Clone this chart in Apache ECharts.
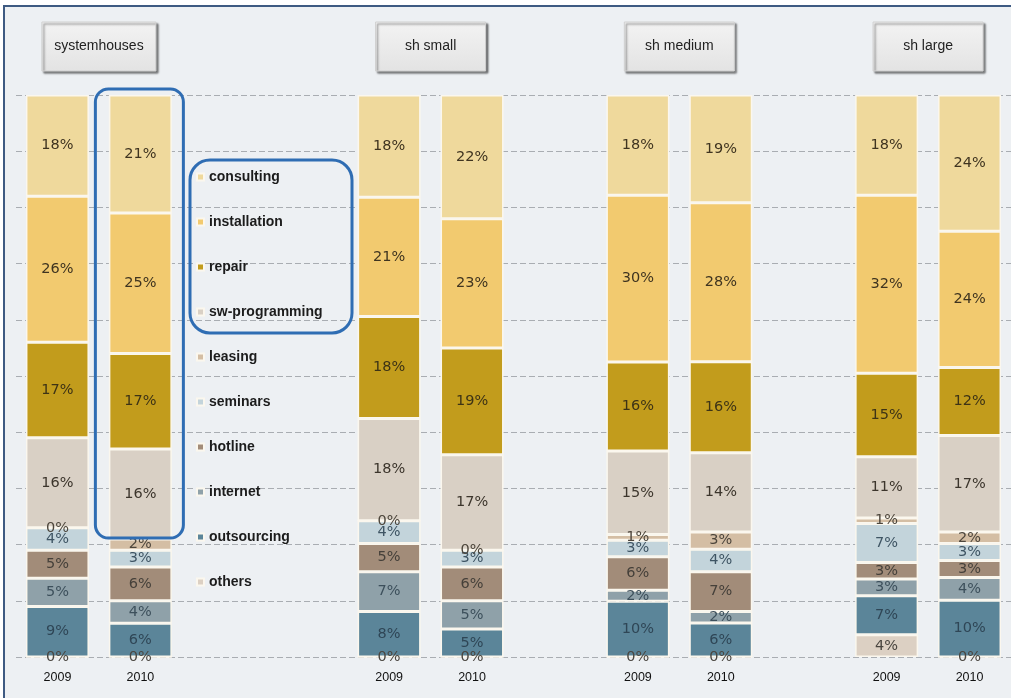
<!DOCTYPE html>
<html>
<head>
<meta charset="utf-8">
<script src="https://cdn.jsdelivr.net/npm/echarts@6/dist/echarts.min.js"></script>
<style>
  html, body { margin: 0; padding: 0; background: #ffffff; }
  #frame { position: absolute; left: 3px; top: 5px; width: 1020px; height: 700px;
           background: #edf0f3; border-left: 2px solid #3e5a82; border-top: 2px solid #3e5a82; }
  #chart { position: absolute; left: 0; top: 0; width: 1011px; height: 698px; }
</style>
</head>
<body>
<div id="frame"></div>
<div id="chart"></div>
<script>
// ---- data (bar order: systemhouses 2009/2010, sh small 2009/2010, sh medium 2009/2010, sh large 2009/2010)
const groups = ['systemhouses', 'sh small', 'sh medium', 'sh large'];
const xCategories = ['2009', '2010', '', '', '2009', '2010', '', '2009', '2010', '', '2009', '2010'];
const barSlots = [0, 1, 4, 5, 7, 8, 10, 11];

const consulting    = [18, 21, 18, 22, 18, 19, 18, 24];
const installation  = [26, 25, 21, 23, 30, 28, 32, 24];
const repair        = [17, 17, 18, 19, 16, 16, 15, 12];
const swProgramming = [16, 16, 18, 17, 15, 14, 11, 17];
const leasing       = [0, 2, 0, 0, 1, 3, 1, 2];
const seminars      = [4, 3, 4, 3, 3, 4, 7, 3];
const hotline       = [5, 6, 5, 6, 6, 7, 3, 3];
const internet      = [5, 4, 7, 5, 2, 2, 3, 4];
const outsourcing   = [9, 6, 8, 5, 10, 6, 7, 10];
const others        = [0, 0, 0, 0, 0, 0, 4, 0];

const legendOrder = ['consulting', 'installation', 'repair', 'sw-programming', 'leasing',
                     'seminars', 'hotline', 'internet', 'outsourcing', 'others'];

// stacking order bottom -> top
const stackDefs = [
  { name: 'others',         data: others,        color: '#dcd0c3', label: '#4a4640' },
  { name: 'outsourcing',    data: outsourcing,   color: '#5b8599', label: '#2f4656' },
  { name: 'internet',       data: internet,      color: '#8fa1a9', label: '#3d505c' },
  { name: 'hotline',        data: hotline,       color: '#a28c79', label: '#45403a' },
  { name: 'seminars',       data: seminars,      color: '#c3d4db', label: '#3f5564' },
  { name: 'leasing',        data: leasing,       color: '#d4bea4', label: '#4d463c' },
  { name: 'sw-programming', data: swProgramming, color: '#d9d0c5', label: '#3c352c' },
  { name: 'repair',         data: repair,        color: '#c29c1c', label: '#3d3316' },
  { name: 'installation',   data: installation,  color: '#f2ca6f', label: '#3f3420' },
  { name: 'consulting',     data: consulting,    color: '#efd99c', label: '#3f3420' }
];

const totals = barSlots.map((_, j) => stackDefs.reduce((s, d) => s + d.data[j], 0));

function toSlots(arr, normalise) {
  const out = xCategories.map(() => '-');
  barSlots.forEach((slot, j) => {
    out[slot] = normalise ? arr[j] / totals[j] * 100 : arr[j];
  });
  return out;
}

const series = stackDefs.map(d => {
  const raw = toSlots(d.data, false);
  return {
    name: d.name,
    type: 'bar',
    stack: 'total',
    barWidth: 63,
    data: toSlots(d.data, true),
    itemStyle: { color: d.color, borderColor: '#fbf7ee', borderWidth: 1.5 },
    label: {
      show: true,
      position: 'inside',
      color: d.label,
      fontFamily: 'DejaVu Sans',
      fontSize: 14.5,
      formatter: p => raw[p.dataIndex] + '%'
    },
    emphasis: { disabled: true }
  };
});

const chart = echarts.init(document.getElementById('chart'));
chart.setOption({
  backgroundColor: 'transparent',
  animation: false,
  grid: { left: 16, top: 95, width: 1000, bottom: 41, containLabel: false },
  legend: {
    data: legendOrder,
    orient: 'vertical',
    left: 196,
    top: 170,
    padding: 0,
    icon: 'rect',
    itemWidth: 7,
    itemHeight: 7,
    itemGap: 31,
    selectedMode: false,
    textStyle: { fontFamily: 'Liberation Sans', fontWeight: 'bold', fontSize: 14,
                 color: '#1c1c1c', lineHeight: 14 }
  },
  xAxis: {
    type: 'category',
    data: xCategories,
    axisLine: { show: false },
    axisTick: { show: false },
    axisLabel: { color: '#111', fontFamily: 'Liberation Sans', fontSize: 12.5, margin: 14, interval: 0 }
  },
  yAxis: {
    type: 'value',
    min: 0,
    max: 100,
    interval: 10,
    axisLine: { show: false },
    axisTick: { show: false },
    axisLabel: { show: false },
    splitLine: { show: true, lineStyle: { color: '#a9adb2', type: [6, 3], width: 1 } }
  },
  series: series
});

// buttons and highlight boxes positioned from the axis
const px = i => chart.convertToPixel({ xAxisIndex: 0 }, i);
const graphics = [];
groups.forEach((g, k) => {
  const cx = (px(barSlots[2 * k]) + px(barSlots[2 * k + 1])) / 2;
  const w = k === 0 ? 114 : 110;
  graphics.push({
    type: 'rect', z: 10,
    shape: { x: cx - w / 2, y: 22, width: w, height: 49 },
    style: {
      fill: new echarts.graphic.LinearGradient(0, 0, 0, 1, [
        { offset: 0, color: '#f3f3f3' }, { offset: 1, color: '#e3e3e3' }]),
      stroke: '#d0d0d0', lineWidth: 1,
      shadowBlur: 2, shadowOffsetX: 2, shadowOffsetY: 2, shadowColor: 'rgba(0,0,0,0.5)'
    }
  });
  graphics.push({
    type: 'text', z: 11,
    x: cx, y: 46,
    style: { text: g, fill: '#222', font: '14px "Liberation Sans", "DejaVu Sans", sans-serif',
             align: 'center', verticalAlign: 'middle' }
  });
});
const c2 = px(barSlots[1]);
graphics.push({
  type: 'rect', z: 20,
  shape: { x: c2 - 45, y: 89, width: 88, height: 449, r: 13 },
  style: { fill: 'none', stroke: '#2f6db3', lineWidth: 3 }
});
graphics.push({
  type: 'rect', z: 20,
  shape: { x: 190, y: 160, width: 162, height: 173, r: 20 },
  style: { fill: 'none', stroke: '#2f6db3', lineWidth: 3 }
});
chart.setOption({ graphic: graphics });
</script>
</body>
</html>
